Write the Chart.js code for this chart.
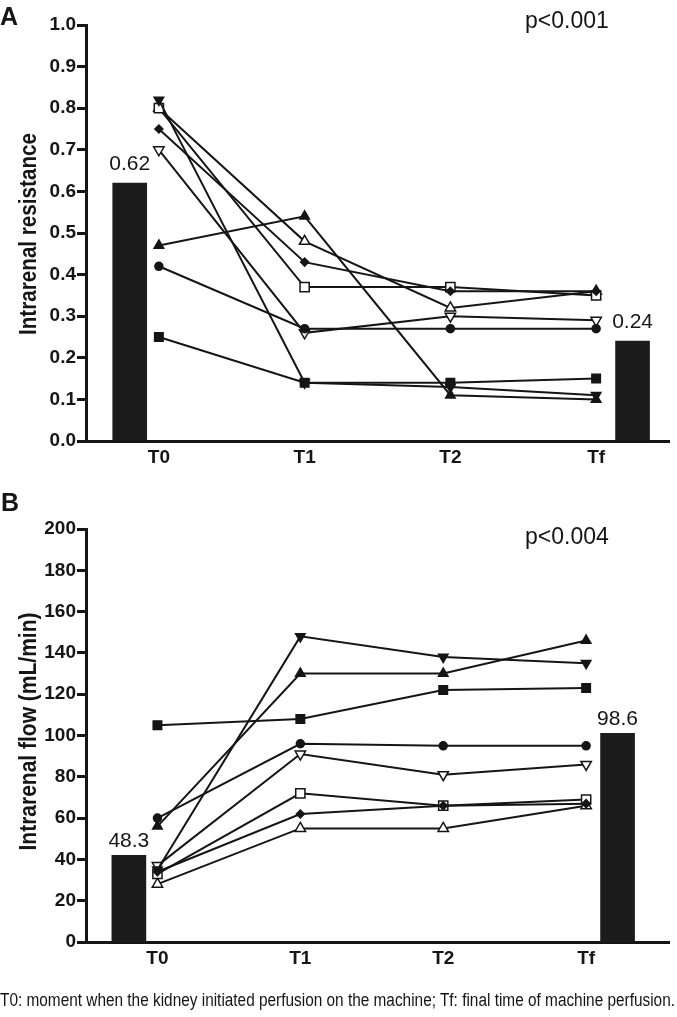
<!DOCTYPE html>
<html>
<head>
<meta charset="utf-8">
<script src="https://cdn.jsdelivr.net/npm/chart.js@4.4.1/dist/chart.umd.min.js"></script>
<style>
  body { margin: 0; background: #fff; }
  #wrap { position: relative; width: 677px; height: 1017px; overflow: hidden; }
  canvas { position: absolute; left: 0; }
  .txt { position: absolute; font-family: 'Liberation Sans', Arial, sans-serif; color: #151515; white-space: nowrap; }
</style>
</head>
<body>
<div id="wrap">
  <canvas id="chartA" width="677" height="490" style="top:0"></canvas>
  <canvas id="chartB" width="677" height="501" style="top:490px"></canvas>
  <div class="txt" style="left:0; top:2px; font-weight:bold; font-size:25px">A</div>
  <div class="txt" style="left:1px; top:488px; font-weight:bold; font-size:25px">B</div>
  <div class="txt" style="left:525px; top:7px; font-size:23px">p&lt;0.001</div>
  <div class="txt" style="left:525px; top:523px; font-size:23px">p&lt;0.004</div>
  <div class="txt" id="caption" style="left:0; top:990px; font-size:18px; transform-origin:0 0">T0: moment when the kidney initiated perfusion on the machine; Tf: final time of machine perfusion.</div>
</div>
<script>
// time points
const timeLabels = ['T0', 'T1', 'T2', 'Tf'];
const timePos = [0, 1, 2, 3];

// A: intrarenal resistance, one array per kidney
const resSquare = [0.25, 0.14, 0.14, 0.15];
const resTriDown = [0.82, 0.14, 0.13, 0.11];
const resTriUp = [0.47, 0.54, 0.11, 0.10];
const resCircle = [0.42, 0.27, 0.27, 0.27];
const resDiamond = [0.75, 0.43, 0.36, 0.36];
const resOpenSquare = [0.80, 0.37, 0.37, 0.35];
const resOpenTriUp = [0.80, 0.48, 0.32, 0.36];
const resOpenTriDown = [0.70, 0.26, 0.30, 0.29];
const resBarPos = [-0.2, 3.25];
const resBarValues = [0.62, 0.24];
const resBarLabels = ['0.62', '0.24'];

// B: intrarenal flow (mL/min)
const flowSquare = [105, 108, 122, 123];
const flowTriDown = [35, 148, 138, 135];
const flowTriUp = [56, 130, 130, 146];
const flowCircle = [60, 96, 95, 95];
const flowDiamond = [34, 62, 66, 67];
const flowOpenSquare = [33, 72, 66, 69];
const flowOpenTriUp = [28, 55, 55, 66];
const flowOpenTriDown = [37, 91, 81, 86];
const flowBarPos = [-0.2, 3.22];
const flowBarValues = [42, 101];
const flowBarLabels = ['48.3', '98.6'];

const ink = '#151515';
const fontFam = "'Liberation Sans', Arial, sans-serif";

// marker look for each kidney, same order in both panels
const markers = [
  { style: 'rect', rot: 0, fill: true, r: 6 },
  { style: 'triangle', rot: 180, fill: true, r: 5.5 },
  { style: 'triangle', rot: 0, fill: true, r: 5.5 },
  { style: 'circle', rot: 0, fill: true, r: 4 },
  { style: 'rectRot', rot: 0, fill: true, r: 4 },
  { style: 'rect', rot: 0, fill: false, r: 6.5 },
  { style: 'triangle', rot: 0, fill: false, r: 6 },
  { style: 'triangle', rot: 180, fill: false, r: 6 }
];

function lineSet(values, m) {
  return {
    type: 'line',
    data: values.map((v, i) => ({ x: timePos[i], y: v })),
    borderColor: ink,
    borderWidth: 2,
    tension: 0,
    pointStyle: m.style,
    rotation: m.rot,
    pointRadius: m.r,
    pointBackgroundColor: m.fill ? ink : '#fff',
    pointBorderColor: ink,
    pointBorderWidth: 1.5,
    order: 1
  };
}

function barSet(pos, values) {
  return {
    type: 'bar',
    data: pos.map((x, i) => ({ x: x, y: values[i] })),
    backgroundColor: '#1c1c1c',
    barThickness: 34,
    grouped: false,
    order: 10
  };
}

// value text above the two bars, and the squeezed rotated axis title
const extras = {
  id: 'extras',
  afterDatasetsDraw(chart, args, opts) {
    const ctx = chart.ctx;
    const meta = chart.getDatasetMeta(0);
    ctx.save();
    ctx.font = '21px ' + fontFam;
    ctx.fillStyle = ink;
    ctx.textAlign = 'center';
    ctx.textBaseline = 'alphabetic';
    meta.data.forEach((el, i) => {
      ctx.fillText(opts.labels[i], el.x, el.y - opts.gap);
    });
    ctx.restore();

    const area = chart.chartArea;
    ctx.save();
    ctx.font = 'bold 23px ' + fontFam;
    ctx.fillStyle = ink;
    ctx.textAlign = 'center';
    ctx.textBaseline = 'middle';
    ctx.translate(30, (area.top + area.bottom) / 2 + opts.titleShift);
    ctx.rotate(-Math.PI / 2);
    const w = ctx.measureText(opts.title).width;
    ctx.scale(opts.titleLen / w, 1);
    ctx.fillText(opts.title, 0, 0);
    ctx.restore();
  }
};

function makeChart(id, series, barPos, barValues, labels, yOpts, pad) {
  const datasets = [barSet(barPos, barValues)];
  series.forEach((s, i) => datasets.push(lineSet(s, markers[i])));
  return new Chart(document.getElementById(id), {
    type: 'bar',
    data: { datasets: datasets },
    plugins: [extras],
    options: {
      responsive: false,
      animation: false,
      layout: { padding: pad },
      plugins: {
        legend: { display: false },
        tooltip: { enabled: false },
        extras: { labels: labels, gap: yOpts.gap, title: yOpts.title, titleLen: yOpts.titleLen, titleShift: yOpts.titleShift }
      },
      scales: {
        x: {
          type: 'linear',
          offset: false,
          min: -0.5,
          max: yOpts.xMax,
          afterBuildTicks: (s) => { s.ticks = timePos.map(v => ({ value: v })); },
          afterFit: (s) => { s.height = 49; },
          ticks: {
            callback: (v, i) => timeLabels[i],
            font: { family: fontFam, size: 19, weight: 'bold' },
            color: ink,
            padding: 5,
            maxRotation: 0,
            autoSkip: false
          },
          grid: { offset: false, drawOnChartArea: false, drawTicks: false },
          border: { color: ink, width: 3 }
        },
        y: {
          min: yOpts.min,
          max: yOpts.max,
          afterFit: (s) => { s.width = 86; },
          ticks: {
            stepSize: yOpts.step,
            callback: yOpts.fmt,
            font: { family: fontFam, size: 19, weight: 'bold' },
            color: ink,
            padding: 1
          },
          grid: { drawOnChartArea: false, drawTicks: true, tickLength: 9, tickWidth: 3, tickColor: ink },
          border: { color: ink, width: 3 }
        }
      }
    }
  });
}

makeChart('chartA',
  [resSquare, resTriDown, resTriUp, resCircle, resDiamond, resOpenSquare, resOpenTriUp, resOpenTriDown],
  resBarPos, resBarValues, resBarLabels,
  { min: 0, max: 1, step: 0.1, fmt: v => v.toFixed(1), title: 'Intrarenal resistance', titleLen: 202, titleShift: 1, xMax: 3.5, gap: 13 },
  { top: 25, right: 4, left: 0, bottom: 0 });

makeChart('chartB',
  [flowSquare, flowTriDown, flowTriUp, flowCircle, flowDiamond, flowOpenSquare, flowOpenTriUp, flowOpenTriDown],
  flowBarPos, flowBarValues, flowBarLabels,
  { min: 0, max: 200, step: 20, fmt: v => v, title: 'Intrarenal flow (mL/min)', titleLen: 238, titleShift: -4, xMax: 3.58, gap: 8 },
  { top: 39, right: 0, left: 0, bottom: 0 });

// squeeze the caption onto one line across the page
const cap = document.getElementById('caption');
const w = cap.getBoundingClientRect().width;
cap.style.transform = 'scaleX(' + (675 / w) + ')';
</script>
</body>
</html>
